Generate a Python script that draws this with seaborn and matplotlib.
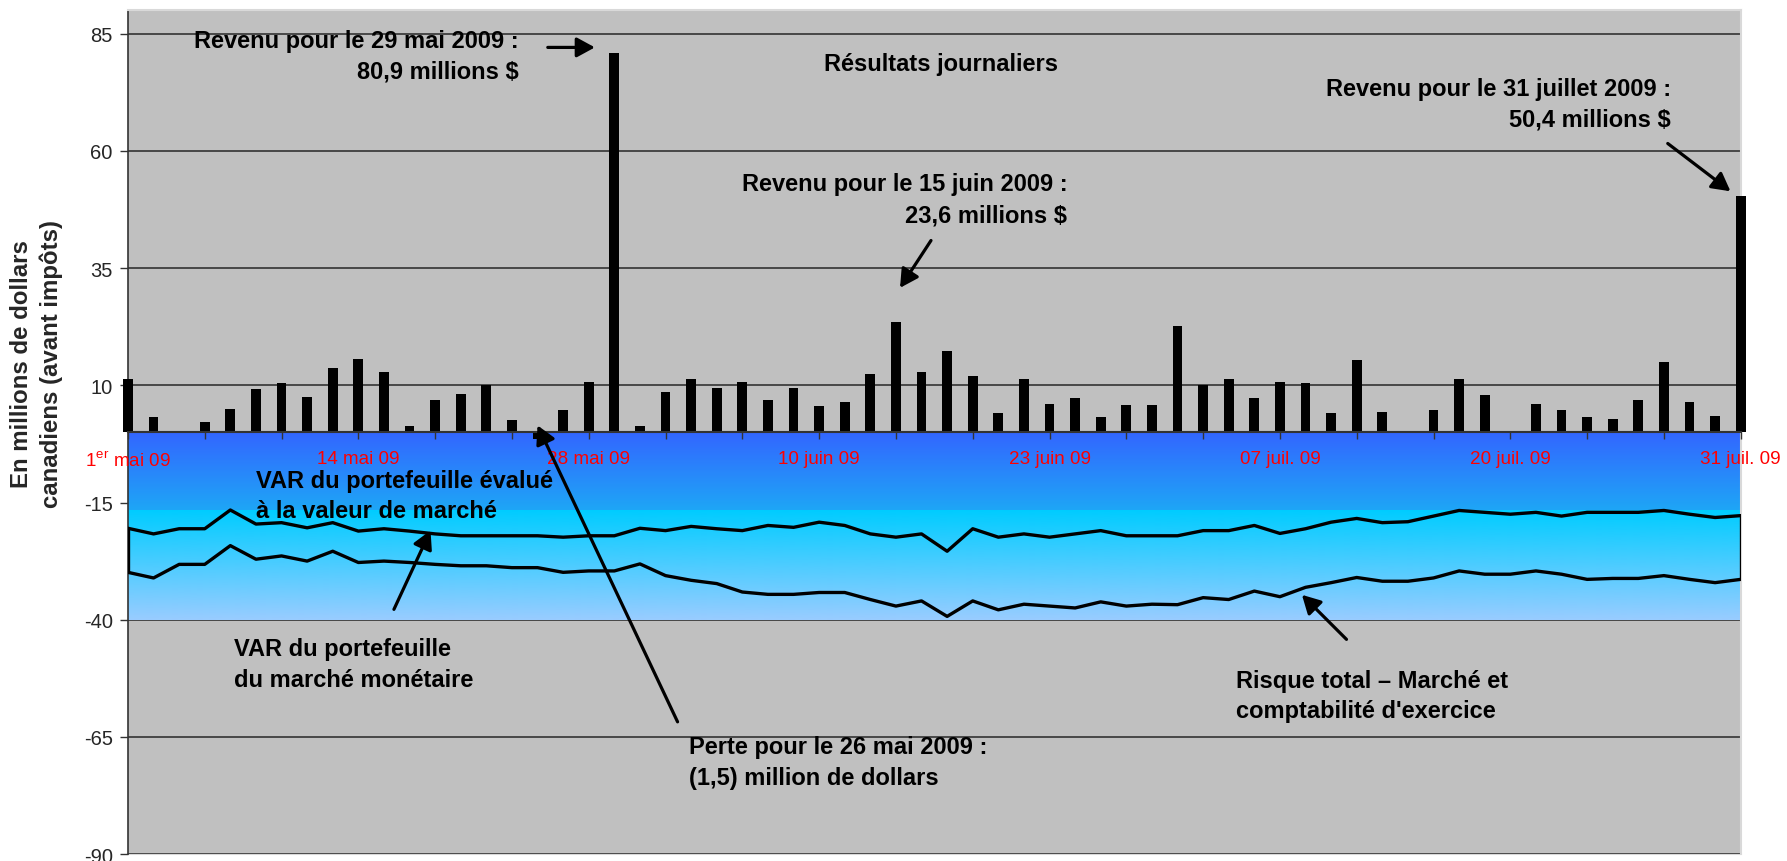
import numpy as np
import pandas as pd
import matplotlib
matplotlib.use("Agg")
import matplotlib.pyplot as plt
import seaborn as sns
from matplotlib.colors import LinearSegmentedColormap

# Jours ouvrables du 1er mai au 31 juillet 2009 (hors fête de la Reine et fête du Canada)
jours_feries = ["2009-05-18", "2009-07-01"]
dates = pd.bdate_range("2009-05-01", "2009-07-31")
dates = dates[~dates.isin(pd.to_datetime(jours_feries))]

# Résultats journaliers (millions $)
resultats = [11.4, 3.3, 0.3, 2.2, 5.0, 9.3, 10.4, 7.6, 13.6, 15.7,
             12.9, 1.3, 6.9, 8.2, 10.1, 2.7, -1.5, 4.8, 10.8, 80.9,
             1.3, 8.6, 11.3, 9.4, 10.8, 6.9, 9.4, 5.5, 6.5, 12.5,
             23.6, 12.9, 17.4, 11.9, 4.0, 11.4, 6.1, 7.2, 3.3, 5.9,
             5.9, 22.7, 10.1, 11.3, 7.2, 10.8, 10.4, 4.0, 15.5, 4.4,
             0.2, 4.8, 11.4, 8.0, 0.2, 6.1, 4.8, 3.3, 2.9, 6.9,
             15.0, 6.5, 3.4, 50.4]

# VAR du portefeuille évalué à la valeur de marché
var_marche = [-20.5, -21.7, -20.6, -20.6, -16.6, -19.6, -19.3, -20.4, -19.3, -21.1,
              -20.6, -21.1, -21.7, -22.1, -22.1, -22.1, -22.1, -22.4, -22.1, -22.1,
              -20.5, -21.0, -20.1, -20.6, -21.0, -19.9, -20.3, -19.2, -19.9, -21.7,
              -22.4, -21.7, -25.4, -20.6, -22.4, -21.7, -22.4, -21.7, -21.0, -22.1,
              -22.1, -22.1, -21.0, -21.0, -19.9, -21.6, -20.6, -19.2, -18.4, -19.3,
              -19.1, -17.9, -16.7, -17.1, -17.5, -17.1, -17.9, -17.1, -17.1, -17.1,
              -16.7, -17.5, -18.2, -17.8]

# Risque total - marché et comptabilité d'exercice
risque_total = [-29.9, -31.1, -28.2, -28.2, -24.2, -27.1, -26.4, -27.5, -25.4, -27.8,
                -27.5, -27.8, -28.2, -28.5, -28.5, -28.9, -28.9, -29.9, -29.6, -29.6,
                -28.1, -30.6, -31.6, -32.3, -34.1, -34.6, -34.6, -34.2, -34.2, -35.7,
                -37.1, -36.0, -39.3, -36.0, -37.9, -36.7, -37.1, -37.5, -36.2, -37.1,
                -36.7, -36.8, -35.3, -35.7, -33.9, -35.1, -33.1, -32.1, -31.0, -31.8,
                -31.8, -31.1, -29.6, -30.3, -30.3, -29.6, -30.3, -31.4, -31.2, -31.2,
                -30.6, -31.4, -32.1, -31.4]

# Étiquettes de l'axe des dates
dates_etiquetees = ["2009-05-01", "2009-05-14", "2009-05-28", "2009-06-10",
                    "2009-06-23", "2009-07-07", "2009-07-20", "2009-07-31"]
etiquettes = ["1$^{\\mathrm{er}}$ mai 09", "14 mai 09", "28 mai 09", "10 juin 09",
              "23 juin 09", "07 juil. 09", "20 juil. 09", "31 juil. 09"]
graduations_y = [-90, -65, -40, -15, 10, 35, 60, 85]

# Bande de risque (fond dégradé) : bornes en millions $
BANDE_HAUT, BANDE_MILIEU, BANDE_BAS = 0, -16.6, -40

sns.set_theme(style="white")
plt.rcParams["font.family"] = ["Liberation Sans", "DejaVu Sans"]
plt.rcParams["mathtext.fontset"] = "custom"
plt.rcParams["mathtext.rm"] = "Liberation Sans"
plt.rcParams["axes.unicode_minus"] = False

df = pd.DataFrame({"jour": np.arange(len(dates)), "date": dates,
                   "resultat": resultats, "var_marche": var_marche,
                   "risque_total": risque_total})
x_min, x_max = df["jour"].iloc[0], df["jour"].iloc[-1]

fig = plt.figure(figsize=(17.87, 8.62), dpi=100)
ax = fig.add_axes([0.0716, 0.0081, 0.9025, 0.9787])
ax.set_facecolor("#C0C0C0")

# Quadrillage hors de la bande
hors_bande = [t for t in graduations_y if not (BANDE_BAS < t < BANDE_HAUT)]
ax.hlines(hors_bande, x_min, x_max, color="#333333", lw=1.2, zorder=1.5)

# Fond dégradé de la bande de risque
def degrade(y_haut, y_bas, c_haut, c_bas):
    grad = np.linspace(0, 1, 256).reshape(-1, 1)
    cmap = LinearSegmentedColormap.from_list("bande", [c_haut, c_bas])
    ax.imshow(grad, cmap=cmap, aspect="auto", origin="upper",
              extent=(x_min, x_max, y_bas, y_haut), zorder=1.8,
              interpolation="bilinear")

degrade(BANDE_HAUT, BANDE_MILIEU, "#3366FF", "#1EA6F6")
degrade(BANDE_MILIEU, BANDE_BAS, "#00CCFF", "#99CCFF")

# Barres des résultats journaliers
sns.barplot(data=df, x="jour", y="resultat", color="black", saturation=1,
            width=0.38, errorbar=None, ax=ax, zorder=3,
            edgecolor="black", linewidth=0)
for barre in ax.patches:
    barre.set_clip_on(False)

# Courbes de VAR
sns.lineplot(data=df, x="jour", y="var_marche", color="black", lw=2.4,
             ax=ax, zorder=4)
sns.lineplot(data=df, x="jour", y="risque_total", color="black", lw=2.4,
             ax=ax, zorder=4)
ax.vlines([x_min, x_max],
          [risque_total[0], risque_total[-1]],
          [var_marche[0], var_marche[-1]],
          color="black", lw=2.4, zorder=4)

ax.set_xlim(x_min, x_max)
ax.set_ylim(-90, 90)

# Axe des x à zéro, graduations tous les trois jours
ax.spines["bottom"].set_position(("data", 0))
ax.spines["bottom"].set_color("#333333")
ax.spines["bottom"].set_linewidth(1.5)
ax.spines["bottom"].set_zorder(3.5)
ax.xaxis.set_zorder(4.5)
positions_etiq = {int(np.where(dates == pd.Timestamp(d))[0][0]): e
                  for d, e in zip(dates_etiquetees, etiquettes)}
graduations_x = np.arange(x_min, x_max + 1, 3)
ax.set_xticks(graduations_x)
ax.set_xticklabels([positions_etiq.get(int(g), "") for g in graduations_x])
ax.tick_params(axis="x", direction="out", length=5, width=1, color="#333333",
               labelcolor="#FF0000", labelsize=13.6, pad=8, bottom=True)

ax.set_yticks(graduations_y)
ax.set_yticklabels([str(t) for t in graduations_y])
ax.tick_params(axis="y", direction="out", length=6, width=1, color="#333333",
               labelsize=14.5, pad=5, left=True)

ax.spines["left"].set_color("#333333")
ax.spines["left"].set_linewidth(1.2)
for cote in ("top", "right"):
    ax.spines[cote].set_color("#D9D9D9")
    ax.spines[cote].set_linewidth(1.5)
ax.plot([0, 1], [0, 0], transform=ax.transAxes, color="#D9D9D9", lw=1.5,
        clip_on=False, zorder=0.5)

ax.set_xlabel("")
ax.set_ylabel("En millions de dollars\ncanadiens (avant impôts)",
              fontsize=17.3, fontweight="bold", linespacing=1.35)
ax.yaxis.label.set_va("center")
ax.yaxis.set_label_coords(-0.0565, 0.582)

# Annotations
def fmt(v):
    return f"{abs(v):.1f}".replace(".", ",")

gras = dict(fontsize=17, fontweight="bold", color="black", linespacing=1.42,
            zorder=6)
fleche = dict(arrowstyle="-|>,head_length=0.55,head_width=0.3", lw=2.3,
              color="black", mutation_scale=20, shrinkA=0, shrinkB=0)

def rang(jour):
    return int(np.where(dates == pd.Timestamp(jour))[0][0])

i_29mai, i_15juin, i_26mai = rang("2009-05-29"), rang("2009-06-15"), rang("2009-05-26")

ax.text(15.27, 80.3, f"Revenu pour le 29 mai 2009 :\n{fmt(resultats[i_29mai])} millions $",
        ha="right", va="center", multialignment="right", **gras)
ax.annotate("", xy=(18.24, 82.1), xytext=(16.4, 82.1), arrowprops=fleche, zorder=6)

ax.text(31.76, 78.6, "Résultats journaliers", ha="center", va="center", **gras)

ax.text(36.7, 49.7, f"Revenu pour le 15 juin 2009 :\n{fmt(resultats[i_15juin])} millions $",
        ha="right", va="center", multialignment="right", **gras)
ax.annotate("", xy=(30.16, 30.8), xytext=(31.37, 40.9), arrowprops=fleche, zorder=6)

ax.text(60.27, 70.1, f"Revenu pour le 31 juillet 2009 :\n{fmt(resultats[-1])} millions $",
        ha="right", va="center", multialignment="right", **gras)
ax.annotate("", xy=(62.6, 51.4), xytext=(60.15, 61.6), arrowprops=fleche, zorder=6)

ax.text(5.0, -13.55, "VAR du portefeuille évalué\nà la valeur de marché",
        ha="left", va="center", **gras)

ax.text(4.14, -49.4, "VAR du portefeuille\ndu marché monétaire",
        ha="left", va="center", **gras)
ax.annotate("", xy=(11.82, -20.96), xytext=(10.39, -37.8), arrowprops=fleche, zorder=6)

ax.text(21.9, -70.4, f"Perte pour le 26 mai 2009 :\n({fmt(resultats[i_26mai])}) million de dollars",
        ha="left", va="center", **gras)
ax.annotate("", xy=(16.0, 1.45), xytext=(21.47, -61.8), arrowprops=fleche, zorder=6)

ax.text(43.3, -56.2, "Risque total – Marché et\ncomptabilité d'exercice",
        ha="left", va="center", **gras)
ax.annotate("", xy=(45.86, -34.7), xytext=(47.6, -44.2), arrowprops=fleche, zorder=6)

fig.savefig("out.png", dpi=100, facecolor="white")
